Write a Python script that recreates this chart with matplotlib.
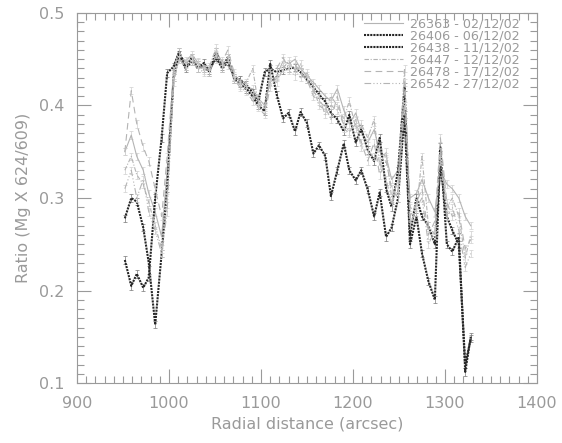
import matplotlib
matplotlib.use("Agg")
import matplotlib.pyplot as plt
from matplotlib.ticker import MultipleLocator, FormatStrFormatter

# radial positions of the profile points (arcsec)
radius = [952, 959, 965, 972, 978, 985, 992, 998, 1005, 1011,
          1018, 1025, 1031, 1038, 1044, 1051, 1058, 1064, 1071, 1077,
          1084, 1091, 1097, 1104, 1110, 1117, 1124, 1130, 1137, 1143,
          1150, 1157, 1163, 1170, 1176, 1183, 1190, 1196, 1203, 1209,
          1216, 1223, 1229, 1236, 1242, 1249, 1256, 1262, 1269, 1275,
          1282, 1289, 1295, 1302, 1308, 1315, 1322, 1328]

# Mg 624/609 ratio, one list per observation
r26363 = [0.350, 0.368, 0.345, 0.330, 0.305, 0.285, 0.258, 0.330, 0.440, 0.455,
          0.448, 0.455, 0.447, 0.442, 0.440, 0.450, 0.446, 0.443, 0.432, 0.428,
          0.420, 0.418, 0.408, 0.400, 0.425, 0.432, 0.448, 0.445, 0.450, 0.440,
          0.432, 0.425, 0.418, 0.410, 0.405, 0.418, 0.395, 0.380, 0.392, 0.372,
          0.360, 0.374, 0.350, 0.345, 0.320, 0.330, 0.380, 0.300, 0.305, 0.320,
          0.300, 0.285, 0.330, 0.315, 0.310, 0.300, 0.280, 0.270]
r26406 = [0.278, 0.300, 0.296, 0.268, 0.230, 0.163, 0.240, 0.310, 0.430, 0.455,
          0.440, 0.448, 0.444, 0.440, 0.438, 0.452, 0.440, 0.448, 0.430, 0.428,
          0.422, 0.414, 0.404, 0.436, 0.440, 0.436, 0.438, 0.440, 0.441, 0.436,
          0.428, 0.420, 0.412, 0.404, 0.392, 0.385, 0.372, 0.390, 0.360, 0.375,
          0.352, 0.340, 0.365, 0.310, 0.290, 0.330, 0.420, 0.260, 0.300, 0.280,
          0.270, 0.250, 0.335, 0.280, 0.265, 0.250, 0.120, 0.148]
r26438 = [0.233, 0.205, 0.218, 0.203, 0.214, 0.300, 0.365, 0.435, 0.442, 0.458,
          0.442, 0.452, 0.440, 0.446, 0.436, 0.458, 0.442, 0.452, 0.428, 0.424,
          0.418, 0.410, 0.400, 0.394, 0.445, 0.412, 0.386, 0.392, 0.372, 0.393,
          0.381, 0.348, 0.357, 0.345, 0.302, 0.330, 0.359, 0.330, 0.319, 0.330,
          0.309, 0.280, 0.306, 0.258, 0.268, 0.300, 0.390, 0.250, 0.280, 0.240,
          0.210, 0.190, 0.355, 0.250, 0.242, 0.258, 0.112, 0.150]
r26447 = [0.330, 0.345, 0.325, 0.315, 0.295, 0.270, 0.245, 0.300, 0.430, 0.450,
          0.445, 0.452, 0.446, 0.438, 0.442, 0.462, 0.444, 0.452, 0.430, 0.422,
          0.425, 0.440, 0.402, 0.398, 0.430, 0.425, 0.440, 0.448, 0.438, 0.430,
          0.435, 0.420, 0.400, 0.395, 0.410, 0.400, 0.385, 0.405, 0.375, 0.380,
          0.365, 0.385, 0.335, 0.350, 0.300, 0.320, 0.440, 0.290, 0.285, 0.345,
          0.270, 0.260, 0.350, 0.290, 0.300, 0.280, 0.235, 0.260]
r26478 = [0.350, 0.416, 0.380, 0.355, 0.340, 0.310, 0.280, 0.345, 0.438, 0.458,
          0.446, 0.450, 0.444, 0.440, 0.436, 0.455, 0.448, 0.460, 0.435, 0.425,
          0.420, 0.412, 0.405, 0.396, 0.435, 0.440, 0.452, 0.440, 0.445, 0.435,
          0.428, 0.410, 0.405, 0.398, 0.385, 0.410, 0.375, 0.370, 0.385, 0.360,
          0.340, 0.360, 0.325, 0.340, 0.310, 0.300, 0.425, 0.280, 0.295, 0.310,
          0.260, 0.275, 0.365, 0.295, 0.280, 0.285, 0.245, 0.255]
r26542 = [0.310, 0.330, 0.300, 0.320, 0.285, 0.265, 0.240, 0.285, 0.425, 0.450,
          0.442, 0.448, 0.440, 0.436, 0.440, 0.458, 0.440, 0.450, 0.428, 0.420,
          0.415, 0.405, 0.398, 0.390, 0.420, 0.430, 0.442, 0.438, 0.432, 0.445,
          0.430, 0.415, 0.408, 0.390, 0.400, 0.395, 0.380, 0.372, 0.380, 0.355,
          0.350, 0.345, 0.340, 0.320, 0.295, 0.310, 0.400, 0.270, 0.290, 0.300,
          0.250, 0.265, 0.340, 0.280, 0.290, 0.265, 0.225, 0.240]

labels = ['26363 - 02/12/02', '26406 - 06/12/02', '26438 - 11/12/02',
          '26447 - 12/12/02', '26478 - 17/12/02', '26542 - 27/12/02']
ratio_err = 0.004

grey = '#9a9a9a'
light = '#b4b4b4'
dark = '#262626'

series = [
    (r26363, dict(color=light, lw=0.8, ls='-'), '#cfcfcf'),
    (r26406, dict(color=dark, lw=1.5, ls=(0, (1, 0.5))), '#777777'),
    (r26438, dict(color=dark, lw=1.5, ls=(0, (1, 0.5))), '#777777'),
    (r26447, dict(color=light, lw=0.8, ls=(0, (4, 1.5, 1, 1.5))), '#cfcfcf'),
    (r26478, dict(color=light, lw=0.8, ls=(0, (6, 4))), '#cfcfcf'),
    (r26542, dict(color=light, lw=0.8, ls=(0, (6, 2, 1, 2, 1, 2, 1, 2))), '#cfcfcf'),
]

fig = plt.figure(figsize=(5.62, 4.43), dpi=100)
ax = fig.add_axes([0.137, 0.1354, 0.8185, 0.8353])

for (vals, st, ecol), lab in zip(series, labels):
    ax.errorbar(radius, vals, yerr=ratio_err, fmt='none', capsize=1.5,
                elinewidth=0.5, capthick=0.5, ecolor=ecol)
    ax.plot(radius, vals, label=lab, **st)

ax.set_xlim(900, 1400)
ax.set_ylim(0.1, 0.5)
ax.xaxis.set_major_locator(MultipleLocator(100))
ax.xaxis.set_minor_locator(MultipleLocator(10))
ax.yaxis.set_major_locator(MultipleLocator(0.1))
ax.yaxis.set_minor_locator(MultipleLocator(0.01))
ax.yaxis.set_major_formatter(FormatStrFormatter('%.1f'))

for sp in ax.spines.values():
    sp.set_color(grey)
    sp.set_linewidth(0.8)
ax.tick_params(which='both', direction='in', top=True, right=True,
               color=grey, width=0.8, labelcolor=grey, labelsize=11.5)
ax.tick_params(which='major', length=10, pad=9)
ax.tick_params(which='minor', length=5)

ax.set_xlabel('Radial distance (arcsec)', color=grey, fontsize=11.5, labelpad=4)
ax.set_ylabel('Ratio (Mg X 624/609)', color=grey, fontsize=11.5, labelpad=6)

leg = ax.legend(loc='upper right', bbox_to_anchor=(0.962, 0.988), frameon=False,
                fontsize=9.2, labelspacing=-0.08, handlelength=3.0,
                handletextpad=0.55, borderpad=0, borderaxespad=0)
for t in leg.get_texts():
    t.set_color(grey)

fig.savefig('out.png', dpi=100)
